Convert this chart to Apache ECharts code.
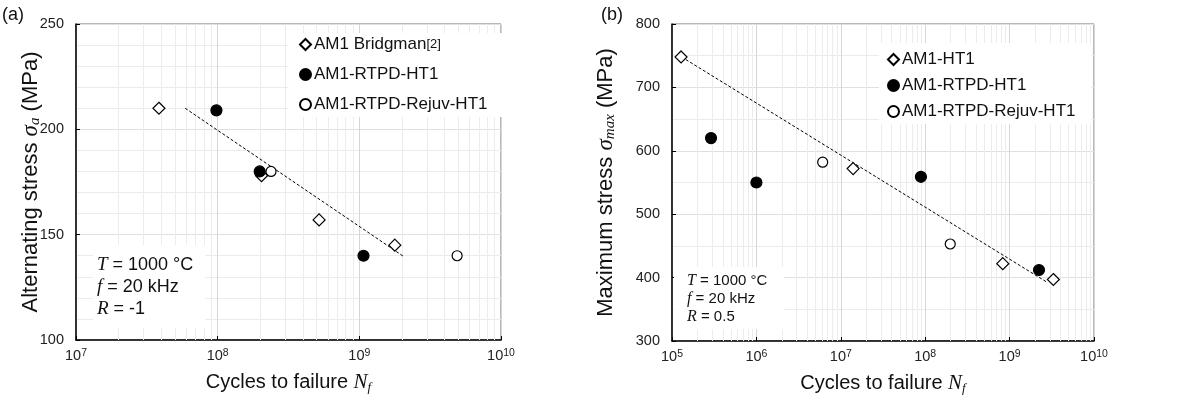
<!DOCTYPE html>
<html>
<head>
<meta charset="utf-8">
<script src="https://cdn.jsdelivr.net/npm/echarts@6/dist/echarts.min.js"></script>
<style>
html,body{margin:0;padding:0;background:#fff;}
#chart{width:1192px;height:401px;}
</style>
</head>
<body>
<div id="chart"></div>
<script>
// ---------- data: panel (a) ----------
const aBridgmanN = [3.85e7, 2.04e8, 5.2e8, 1.78e9];
const aBridgmanS = [210, 178, 157, 145];
const aRtpdN = [9.8e7, 1.98e8, 1.07e9];
const aRtpdS = [209, 180, 140];
const aRejuvN = [2.38e8, 4.9e9];
const aRejuvS = [180, 140];
const aTrendN = [5.9e7, 2.07e9];
const aTrendS = [210, 139.5];

// ---------- data: panel (b) ----------
const bHt1N = [1.28e5, 1.4e7, 8.3e8, 3.3e9];
const bHt1S = [748, 572, 422, 397];
const bRtpdN = [2.9e5, 1.0e6, 8.9e7, 2.23e9];
const bRtpdS = [620, 550, 559, 412];
const bRejuvN = [6.1e6, 1.98e8];
const bRejuvS = [582, 453];
const bTrendN = [1.3e5, 2.83e9];
const bTrendS = [748, 392];

// axis ranges
const aXRange = [1e7, 1e10];
const aYRange = [100, 250];
const bXRange = [1e5, 1e10];
const bYRange = [300, 800];

const names = {
  bridgman: 'AM1 Bridgman',
  ht1: 'AM1-HT1',
  rtpd: 'AM1-RTPD-HT1',
  rejuv: 'AM1-RTPD-Rejuv-HT1'
};

const zip = (xs, ys) => xs.map((x, i) => [x, ys[i]]);
const SANS = '"Liberation Sans", Arial, sans-serif';
const SERIF = '"Liberation Serif", "Times New Roman", serif';

function minorDecadeLines(range) {
  const lines = [];
  const lo = Math.round(Math.log10(range[0]));
  const hi = Math.round(Math.log10(range[1]));
  for (let e = lo; e < hi; e++) {
    for (let m = 2; m <= 9; m++) lines.push({ xAxis: m * Math.pow(10, e) });
  }
  return lines;
}

function titleStyle(size) {
  return {
    fontFamily: SANS, fontSize: size, color: '#111', lineHeight: size + 3,
    rich: {
      i: { fontFamily: SERIF, fontStyle: 'italic', fontSize: size + 1, color: '#111', lineHeight: size + 3 },
      sub: { fontFamily: SERIF, fontStyle: 'italic', fontSize: Math.round(size * 0.66), color: '#111', lineHeight: Math.round(size * 0.66), verticalAlign: 'bottom' }
    }
  };
}

function xAxisCfg(gridIndex, range) {
  return {
    type: 'log', logBase: 10, gridIndex: gridIndex,
    min: range[0], max: range[1],
    name: 'Cycles to failure {i|N}{sub|f}',
    nameLocation: 'middle', nameGap: 31, nameMoveOverlap: false,
    nameTextStyle: titleStyle(20),
    axisLine: { show: true, onZero: false, lineStyle: { color: '#000', width: 1.5 } },
    axisTick: { show: true, inside: true, length: 4, lineStyle: { color: '#000' } },
    axisLabel: {
      margin: 8, color: '#222', fontFamily: SANS, fontSize: 14.5,
      formatter: v => '10{sup|' + Math.round(Math.log10(v)) + '}',
      rich: { sup: { fontSize: 10.5, verticalAlign: 'top', color: '#222', fontFamily: SANS, lineHeight: 10 } }
    },
    splitLine: { show: true, lineStyle: { color: '#d6d6d6', width: 1 } }
  };
}

function yAxisCfg(gridIndex, range, interval, minorSplit, nameStr, gap) {
  return {
    type: 'value', gridIndex: gridIndex,
    min: range[0], max: range[1], interval: interval,
    name: nameStr, nameLocation: 'middle', nameGap: gap, nameRotate: 90, nameMoveOverlap: false,
    nameTextStyle: titleStyle(22),
    axisLine: { show: true, onZero: false, lineStyle: { color: '#000', width: 1.5 } },
    axisTick: { show: true, inside: true, length: 4, lineStyle: { color: '#000' } },
    axisLabel: { margin: 12, color: '#222', fontFamily: SANS, fontSize: 14.5 },
    splitLine: { show: true, lineStyle: { color: '#e0e0e0', width: 1 } },
    minorTick: { show: false, splitNumber: minorSplit },
    minorSplitLine: { show: true, lineStyle: { color: '#ebebeb', width: 1 } }
  };
}

function gridHelper(xi, range) {
  return {
    type: 'line', xAxisIndex: xi, yAxisIndex: xi, data: [], silent: true, z: 1,
    showSymbol: false, legendHoverLink: false,
    markLine: {
      silent: true, symbol: ['none', 'none'], animation: false, z: 1,
      label: { show: false },
      lineStyle: { color: '#ececec', width: 1, type: 'solid' },
      emphasis: { disabled: true },
      data: minorDecadeLines(range)
    }
  };
}

function scatter(name, xi, data, symbol, size, filled) {
  return {
    name: name, type: 'scatter', xAxisIndex: xi, yAxisIndex: xi, z: 5,
    symbol: symbol, symbolSize: size, data: data,
    itemStyle: { color: filled ? '#000' : '#fff', borderColor: '#000', borderWidth: 1.2, opacity: 1 }
  };
}

function trend(xi, data) {
  return {
    type: 'line', xAxisIndex: xi, yAxisIndex: xi, z: 4, data: data,
    showSymbol: false, symbol: 'none', silent: true,
    lineStyle: { color: '#000', width: 1, type: [3, 2] }
  };
}

function legendCfg(left, top, data, gap, padding) {
  return {
    orient: 'vertical', left: left, top: top, selectedMode: false, z: 8,
    backgroundColor: '#fff', padding: padding, itemGap: gap,
    itemWidth: 11, itemHeight: 11,
    textStyle: { fontFamily: SANS, fontSize: 17, color: '#111', padding: [0, 0, 0, -2],
      rich: { r: { fontFamily: SANS, fontSize: 13, color: '#111' } } },
    formatter: n => n === names.bridgman ? n + '{r|[2]}' : n,
    data: data
  };
}

function condBox(left, top, w, h, tx, ty, rText, size, lh) {
  return {
    type: 'group', left: left, top: top, z: 50,
    children: [
      { type: 'rect', z: 50, shape: { x: 0, y: 0, width: w, height: h }, style: { fill: '#fff' } },
      { type: 'text', z: 51, x: tx, y: ty, style: {
          text: '{i|T} = 1000 °C\n{i|f} = 20 kHz\n{i|R} = ' + rText,
          fontFamily: SANS, fontSize: size, fill: '#111', lineHeight: lh,
          rich: { i: { fontFamily: SERIF, fontStyle: 'italic', fontSize: size + 1, fill: '#111', lineHeight: lh } }
      } }
    ]
  };
}

const chart = echarts.init(document.getElementById('chart'), null, { renderer: 'canvas' });

const option = {
  animation: false,
  backgroundColor: '#fff',
  grid: [
    { left: 76, top: 24, width: 425, height: 316, show: true, borderColor: '#707070', borderWidth: 1, backgroundColor: 'transparent' },
    { left: 672, top: 24, width: 422, height: 317, show: true, borderColor: '#707070', borderWidth: 1, backgroundColor: 'transparent' }
  ],
  xAxis: [xAxisCfg(0, aXRange), xAxisCfg(1, bXRange)],
  yAxis: [
    yAxisCfg(0, aYRange, 50, 5, 'Alternating stress {i|σ}{sub|a} (MPa)', 33),
    yAxisCfg(1, bYRange, 100, 2, 'Maximum stress {i|σ}{sub|max} (MPa)', 54)
  ],
  legend: [
    legendCfg(288, 33, [
      { name: names.bridgman, icon: 'diamond' },
      { name: names.rtpd, icon: 'circle' },
      { name: names.rejuv, icon: 'circle' }
    ], 13, [3, 16, 4, 11]),
    legendCfg(879, 43, [
      { name: names.ht1, icon: 'diamond' },
      { name: names.rtpd, icon: 'circle' },
      { name: names.rejuv, icon: 'circle' }
    ], 9, [8, 16, 4, 8])
  ],
  series: [
    gridHelper(0, aXRange),
    gridHelper(1, bXRange),
    trend(0, zip(aTrendN, aTrendS)),
    trend(1, zip(bTrendN, bTrendS)),
    scatter(names.bridgman, 0, zip(aBridgmanN, aBridgmanS), 'diamond', 12, false),
    scatter(names.rtpd, 0, zip(aRtpdN, aRtpdS), 'circle', 11, true),
    scatter(names.rejuv, 0, zip(aRejuvN, aRejuvS), 'circle', 10, false),
    scatter(names.ht1, 1, zip(bHt1N, bHt1S), 'diamond', 12, false),
    scatter(names.rtpd, 1, zip(bRtpdN, bRtpdS), 'circle', 11, true),
    scatter(names.rejuv, 1, zip(bRejuvN, bRejuvS), 'circle', 10, false)
  ],
  graphic: [
    { type: 'text', left: 2, top: 6, style: { text: '(a)', font: '18px ' + SANS, fill: '#111' } },
    { type: 'text', left: 601, top: 6, style: { text: '(b)', font: '18px ' + SANS, fill: '#111' } },
    condBox(93, 245, 112, 83, 4, 9, '-1', 18, 22),
    condBox(674, 267, 110, 62, 13, 5, '0.5', 15, 18)
  ]
};
chart.setOption(option);
</script>
</body>
</html>
